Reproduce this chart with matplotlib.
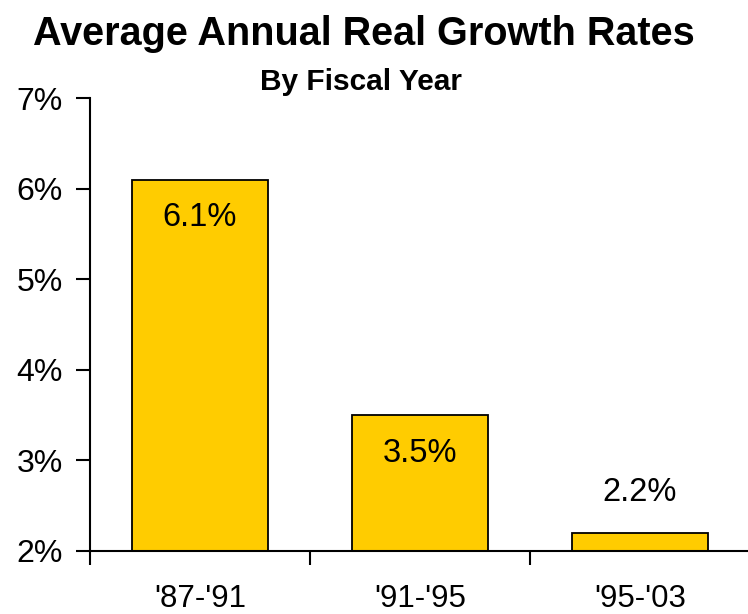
import matplotlib
matplotlib.use("Agg")
import matplotlib.pyplot as plt
from matplotlib.ticker import FixedLocator, FuncFormatter

plt.rcParams['font.family'] = ['Liberation Sans', 'DejaVu Sans']

categories = ["'87-'91", "'91-'95", "'95-'03"]
growth = [6.1, 3.5, 2.2]
y_ticks = [2, 3, 4, 5, 6, 7]

fig = plt.figure(figsize=(7.48, 6.14), dpi=100)
ax = fig.add_axes([90 / 748, 1 - 551 / 614, 660 / 748, (551 - 98) / 614])

x = list(range(len(categories)))
base = y_ticks[0]
bars = ax.bar(x, [v - base for v in growth], bottom=base, width=0.615,
              color='#FFCC00', edgecolor='black', linewidth=1.3, zorder=2)

for xi, v in zip(x, growth):
    if v - base > 1:
        ax.text(xi, v - 0.42, f"{v:.1f}%", ha='center', va='center', fontsize=23.5)
    else:
        ax.text(xi, v + 0.45, f"{v:.1f}%", ha='center', va='center', fontsize=23.5)

ax.set_xlim(-0.5, 2.5)
ax.set_ylim(2, 7)
ax.set_yticks(y_ticks)
ax.yaxis.set_major_formatter(FuncFormatter(lambda v, p: f"{v:.0f}%"))

ax.set_xticks(x)
ax.set_xticklabels(categories)
ax.xaxis.set_minor_locator(FixedLocator([-0.5, 0.5, 1.5, 2.5]))
ax.tick_params(axis='x', which='major', length=0, pad=23.5, labelsize=22.5)
ax.tick_params(axis='x', which='minor', length=10, width=1.5, direction='out')
ax.tick_params(axis='y', which='major', length=10, width=1.5, direction='out',
               pad=9.5, labelsize=23)

for side in ('top', 'right'):
    ax.spines[side].set_visible(False)
for side in ('left', 'bottom'):
    ax.spines[side].set_linewidth(1.5)
ax.spines['bottom'].set_zorder(3)

fig.text(364 / 748, 1 - 45 / 614, "Average Annual Real Growth Rates",
         ha='center', va='baseline', fontsize=28.5, fontweight='bold')
fig.text(361 / 748, 1 - 90 / 614, "By Fiscal Year",
         ha='center', va='baseline', fontsize=21.5, fontweight='bold')

fig.savefig("out.png", dpi=100)
